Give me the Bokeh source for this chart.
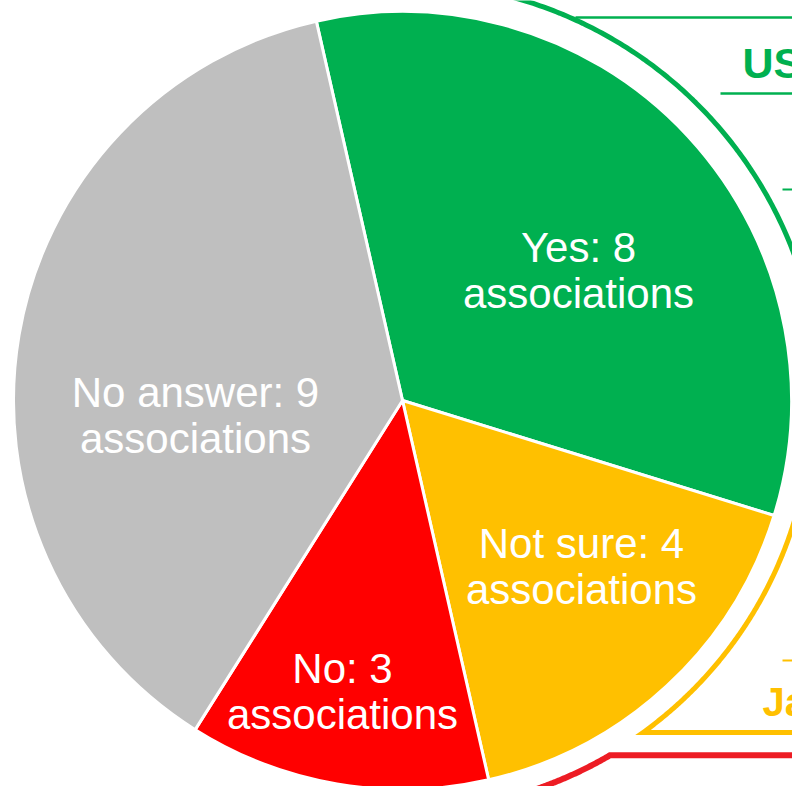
import numpy as np
from bokeh.plotting import figure
from bokeh.models import Range1d, ColumnDataSource
from bokeh.core.properties import value
from bokeh.embed import file_html
from bokeh.resources import INLINE

# ---- data ----
categories = ["Yes", "Not sure", "No", "No answer"]
counts = [8, 4, 3, 9]
unit_label = "associations"
colors = ["#00B050", "#FFC000", "#FF0000", "#BFBFBF"]

# ---- layout (screen-pixel frame, converted to data with y up) ----
W, H = 792, 786
def sy(y):  # screen y -> data y
    return H - y

cx, cy = 402, sy(400)
R = 389
start_deg = 102.8

# label anchors: (center x, baseline of first line in screen px)
label_x = [578, 581, 342, 195]
label_b = [247, 543, 668, 392]
line_gap = 46

p = figure(width=W, height=H, x_range=Range1d(0, W), y_range=Range1d(0, H),
           output_backend="svg", toolbar_location=None,
           x_axis_type=None, y_axis_type=None, min_border=0)
p.outline_line_color = None
p.xgrid.visible = False
p.ygrid.visible = False
p.background_fill_color = "white"
p.border_fill_color = "white"

# ---- background callout outlines (decoration) ----
GREEN, ORANGE, RED2 = "#00B050", "#FFC000", "#ED1C24"

def arc_pts(r, a0, a1, n=200):
    a = np.radians(np.linspace(a0, a1, n))
    return cx + r * np.cos(a), cy + r * np.sin(a)

# green
gx, gy = arc_pts(418, 82, -15)
p.line(gx, gy, line_color=GREEN, line_width=5)
p.line([575, 800], [sy(17), sy(17)], line_color=GREEN, line_width=2.5)
p.line([720, 800], [sy(93), sy(93)], line_color=GREEN, line_width=2.5)
p.line([782, 800], [sy(189), sy(189)], line_color=GREEN, line_width=2)
p.text(x=[742], y=[sy(62)], text=["US"], text_color=GREEN, text_font=value("Liberation Sans"),
       text_font_style="bold", text_font_size="43px", text_baseline="alphabetic", text_align="left")

# orange
ox, oy = arc_pts(410, -8, -54.1)
ox = np.append(ox, 800)
oy = np.append(oy, oy[-1])
p.line(ox, oy, line_color=ORANGE, line_width=5, line_join="miter")
p.line([782, 800], [sy(660), sy(660)], line_color=ORANGE, line_width=2)
p.text(x=[762], y=[sy(701)], text=["Ja"], text_color=ORANGE, text_font=value("Liberation Sans"),
       text_font_style="bold", text_font_size="40px", text_baseline="alphabetic", text_align="left")

# red
rx, ry = arc_pts(411, -92, -59.7)
rx = np.append(rx, 800)
ry = np.append(ry, ry[-1])
p.line(rx, ry, line_color=RED2, line_width=6, line_join="miter")

# ---- pie ----
total = sum(counts)
cum = np.cumsum([0] + counts)
starts = [np.radians(start_deg - 360 * cum[i] / total) for i in range(len(counts))]
ends = [np.radians(start_deg - 360 * cum[i + 1] / total) for i in range(len(counts))]
src = ColumnDataSource(dict(start=starts, end=ends, color=colors))
p.wedge(x=cx, y=cy, radius=R, start_angle="start", end_angle="end", direction="clock",
        fill_color="color", line_color="white", line_width=3, source=src)

# ---- labels ----
line1 = [f"{c}: {v}" for c, v in zip(categories, counts)]
line2 = [unit_label] * len(categories)
p.text(x=label_x, y=[sy(b) for b in label_b], text=line1, text_color="white",
       text_font=value("Liberation Sans"), text_font_size="42px",
       text_align="center", text_baseline="alphabetic")
p.text(x=label_x, y=[sy(b + line_gap) for b in label_b], text=line2, text_color="white",
       text_font=value("Liberation Sans"), text_font_size="42px",
       text_align="center", text_baseline="alphabetic")

open("out.html", "w").write(file_html(p, INLINE))
